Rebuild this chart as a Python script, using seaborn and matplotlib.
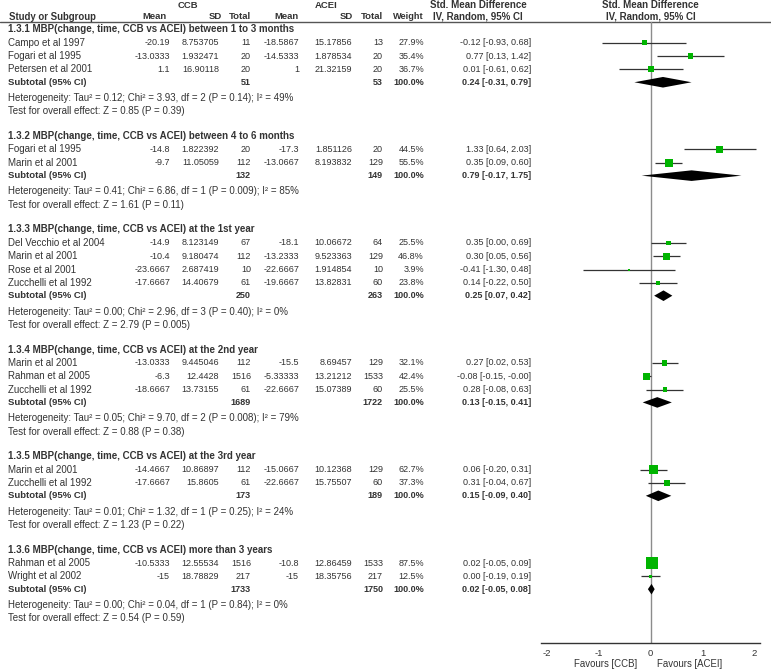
import numpy as np
import pandas as pd
import matplotlib
matplotlib.use("Agg")
import matplotlib.pyplot as plt
import seaborn as sns
from matplotlib.transforms import blended_transform_factory

# ---------------- data ----------------
group_labels = [
    "1.3.1 MBP(change, time, CCB vs ACEI) between 1 to 3 months",
    "1.3.2 MBP(change, time, CCB vs ACEI) between 4 to 6 months",
    "1.3.3 MBP(change, time, CCB vs ACEI) at the 1st year",
    "1.3.4 MBP(change, time, CCB vs ACEI) at the 2nd year",
    "1.3.5 MBP(change, time, CCB vs ACEI) at the 3rd year",
    "1.3.6 MBP(change, time, CCB vs ACEI) more than 3 years",
]
study_group = [0, 0, 0, 1, 1, 2, 2, 2, 2, 3, 3, 3, 4, 4, 5, 5]
study_names = [
    "Campo et al 1997", "Fogari et al 1995", "Petersen et al 2001",
    "Fogari et al 1995", "Marin et al 2001",
    "Del Vecchio et al 2004", "Marin et al 2001", "Rose et al 2001", "Zucchelli et al 1992",
    "Marin et al 2001", "Rahman et al 2005", "Zucchelli et al 1992",
    "Marin et al 2001", "Zucchelli et al 1992",
    "Rahman et al 2005", "Wright et al 2002",
]
ccb_mean = [-20.19, -13.0333, 1.1, -14.8, -9.7, -14.9, -10.4, -23.6667, -17.6667,
            -13.0333, -6.3, -18.6667, -14.4667, -17.6667, -10.5333, -15]
ccb_sd = [8.753705, 1.932471, 16.90118, 1.822392, 11.05059, 8.123149, 9.180474, 2.687419,
          14.40679, 9.445046, 12.4428, 13.73155, 10.86897, 15.8605, 12.55534, 18.78829]
ccb_n = [11, 20, 20, 20, 112, 67, 112, 10, 61, 112, 1516, 61, 112, 61, 1516, 217]
acei_mean = [-18.5867, -14.5333, 1, -17.3, -13.0667, -18.1, -13.2333, -22.6667, -19.6667,
             -15.5, -5.33333, -22.6667, -15.0667, -22.6667, -10.8, -15]
acei_sd = [15.17856, 1.878534, 21.32159, 1.851126, 8.193832, 10.06672, 9.523363, 1.914854,
           13.82831, 8.69457, 13.21212, 15.07389, 10.12368, 15.75507, 12.86459, 18.35756]
acei_n = [13, 20, 20, 20, 129, 64, 129, 10, 60, 129, 1533, 60, 129, 60, 1533, 217]
weight = [27.9, 35.4, 36.7, 44.5, 55.5, 25.5, 46.8, 3.9, 23.8, 32.1, 42.4, 25.5, 62.7, 37.3, 87.5, 12.5]
smd = [-0.12, 0.77, 0.01, 1.33, 0.35, 0.35, 0.30, -0.41, 0.14, 0.27, -0.08, 0.28, 0.06, 0.31, 0.02, 0.00]
ci_lo = [-0.93, 0.13, -0.61, 0.64, 0.09, 0.00, 0.05, -1.30, -0.22, 0.02, -0.15, -0.08, -0.20, -0.04, -0.05, -0.19]
ci_hi = [0.68, 1.42, 0.62, 2.03, 0.60, 0.69, 0.56, 0.48, 0.50, 0.53, -0.0, 0.63, 0.31, 0.67, 0.09, 0.19]

sub_ccb_n = [51, 132, 250, 1689, 173, 1733]
sub_acei_n = [53, 149, 263, 1722, 189, 1750]
sub_smd = [0.24, 0.79, 0.25, 0.13, 0.15, 0.02]
sub_lo = [-0.31, -0.17, 0.07, -0.15, -0.09, -0.05]
sub_hi = [0.79, 1.75, 0.42, 0.41, 0.40, 0.08]
het_tau2 = ["0.12", "0.41", "0.00", "0.05", "0.01", "0.00"]
het_chi2 = ["3.93", "6.86", "2.96", "9.70", "1.32", "0.04"]
het_df = [2, 1, 3, 2, 1, 1]
het_p = ["0.14", "0.009", "0.40", "0.008", "0.25", "0.84"]
het_i2 = [49, 85, 0, 79, 24, 0]
z_val = ["0.85", "1.61", "2.79", "0.88", "1.23", "0.54"]
z_p = ["0.39", "0.11", "0.005", "0.38", "0.22", "0.59"]

axis_ticks = [-2, -1, 0, 1, 2]
favours_left = "Favours [CCB]"
favours_right = "Favours [ACEI]"

# ---------------- style ----------------
sns.set_style("white")
plt.rcParams["font.family"] = ["Liberation Sans", "DejaVu Sans"]
plt.rcParams["axes.unicode_minus"] = False

W, H = 771, 670
FS = 6.5      # numbers
FT = 7.05     # words
TXT = "#333333"
GREEN = "#00b400"

fig = plt.figure(figsize=(W / 100, H / 100), dpi=100)
ax_t = fig.add_axes([0, 0, 1, 1])
ax_t.set_xlim(0, W)
ax_t.set_ylim(H, 0)
ax_t.axis("off")

X0, U = 650.5, 52.0           # zero pixel, pixels per unit
AX_Y = 642.7                  # axis line pixel
XL = 2.1
left_px = X0 - XL * U
ax_f = fig.add_axes([left_px / W, (H - AX_Y) / H, 2 * XL * U / W, AX_Y / H])
ax_f.set_facecolor("none")
ax_f.set_xlim(-XL, XL)
ax_f.set_ylim(AX_Y, 0)

def fmt(v):
    s = str(v)
    return s[:-2] if s.endswith(".0") else s

def t(x, y, s, ha="left", bold=False, fs=FS, **kw):
    ax_t.text(x, y, s, ha=ha, va="center", fontsize=fs, color=TXT,
              fontweight="bold" if bold else "normal", **kw)

# column anchors (pixels)
C_NAME, C_M1, C_SD1, C_N1, C_M2, C_SD2, C_N2, C_W, C_CI = 8, 170, 219, 251, 299, 352, 383, 424, 531

# headers
t(188, 5, "CCB", ha="center", bold=True, fs=6.8)
t(326, 5, "ACEI", ha="center", bold=True, fs=6.8)
t(478, 5, "Std. Mean Difference", ha="center", bold=True, fs=FT)
t(X0, 5, "Std. Mean Difference", ha="center", bold=True, fs=FT)
t(C_NAME + 1, 16.5, "Study or Subgroup", bold=True, fs=6.9)
t(167, 16.5, "Mean", ha="right", bold=True, fs=6.8)
t(222, 16.5, "SD", ha="right", bold=True, fs=6.8)
t(C_N1, 16.5, "Total", ha="right", bold=True, fs=6.8)
t(C_M2, 16.5, "Mean", ha="right", bold=True, fs=6.8)
t(353, 16.5, "SD", ha="right", bold=True, fs=6.8)
t(C_N2, 16.5, "Total", ha="right", bold=True, fs=6.8)
t(C_W, 16.5, "Weight", ha="right", bold=True, fs=6.6)
t(478, 16.5, "IV, Random, 95% CI", ha="center", bold=True, fs=FT)
t(X0, 16.5, "IV, Random, 95% CI", ha="center", bold=True, fs=FT)
ax_t.plot([0, W], [21.5, 21.5], color="#555555", lw=1.0)

# row layout
Y0, P = 29.4, 13.34
row = 0
study_y = []
sub_y = []
for g, lab in enumerate(group_labels):
    t(C_NAME, Y0 + row * P, lab, bold=True, fs=FT)
    row += 1
    for i, gi in enumerate(study_group):
        if gi != g:
            continue
        y = Y0 + row * P
        study_y.append(y)
        t(C_NAME, y, study_names[i], fs=FT)
        t(C_M1, y, fmt(ccb_mean[i]), ha="right")
        t(C_SD1, y, fmt(ccb_sd[i]), ha="right")
        t(C_N1, y, fmt(ccb_n[i]), ha="right")
        t(C_M2, y, fmt(acei_mean[i]), ha="right")
        t(C_SD2, y, fmt(acei_sd[i]), ha="right")
        t(C_N2, y, fmt(acei_n[i]), ha="right")
        t(C_W, y, f"{weight[i]:.1f}%", ha="right")
        t(C_CI, y, f"{smd[i]:.2f} [{ci_lo[i]:.2f}, {ci_hi[i]:.2f}]", ha="right")
        row += 1
    y = Y0 + row * P - 0.5
    sub_y.append(y)
    t(C_NAME, y, "Subtotal (95% CI)", bold=True, fs=6.8)
    t(C_N1, y, str(sub_ccb_n[g]), ha="right", bold=True)
    t(C_N2, y, str(sub_acei_n[g]), ha="right", bold=True)
    t(C_W, y, "100.0%", ha="right", bold=True)
    t(C_CI, y, f"{sub_smd[g]:.2f} [{sub_lo[g]:.2f}, {sub_hi[g]:.2f}]", ha="right", bold=True)
    row += 1
    t(C_NAME, Y0 + row * P + 2,
      f"Heterogeneity: Tau\u00b2 = {het_tau2[g]}; Chi\u00b2 = {het_chi2[g]}, df = {het_df[g]} "
      f"(P = {het_p[g]}); I\u00b2 = {het_i2[g]}%", fs=FT)
    row += 1
    t(C_NAME, Y0 + row * P + 2, f"Test for overall effect: Z = {z_val[g]} (P = {z_p[g]})", fs=FT)
    row += 2

# ---------------- forest ----------------
df = pd.DataFrame({"smd": smd, "lo": ci_lo, "hi": ci_hi, "w": weight, "y": study_y})
side_px = 1.5 + 10.5 * df["w"] / 87.5
df["area"] = (side_px * 0.72) ** 2

ax_f.plot([0, 0], [21.5, AX_Y], color="#8c8c8c", lw=1.0, zorder=1)
ax_f.hlines(df["y"], df["lo"], df["hi"], color="#333333", lw=0.9, zorder=2, clip_on=False)
sns.scatterplot(data=df, x="smd", y="y", marker="s", color=GREEN, s=df["area"].values,
                edgecolor="none", linewidth=0, legend=False, ax=ax_f, zorder=3, clip_on=False)

HH = 5.3
for g in range(len(group_labels)):
    y = sub_y[g]
    ax_f.fill([sub_lo[g], sub_smd[g], sub_hi[g], sub_smd[g]],
              [y, y - HH, y, y + HH], color="black", lw=0, zorder=4, clip_on=False)

ax_f.set_xlabel("")
ax_f.set_ylabel("")
ax_f.set_yticks([])
ax_f.set_xticks(axis_ticks)
ax_f.set_xticklabels([str(v) for v in axis_ticks])
for s in ["left", "top", "right"]:
    ax_f.spines[s].set_visible(False)
ax_f.spines["bottom"].set_color("#333333")
ax_f.spines["bottom"].set_linewidth(1.0)
ax_f.tick_params(axis="x", direction="inout", length=6, width=0.9, color="#333333",
                 labelsize=6.8, labelcolor=TXT, pad=1.5)
tr = blended_transform_factory(ax_f.transData, ax_t.transData)
ax_f.text(-0.25, 664, favours_left, transform=tr, ha="right", va="center", fontsize=6.9, color=TXT)
ax_f.text(0.12, 664, favours_right, transform=tr, ha="left", va="center", fontsize=6.9, color=TXT)

fig.savefig("out.png", dpi=100, facecolor="white")
